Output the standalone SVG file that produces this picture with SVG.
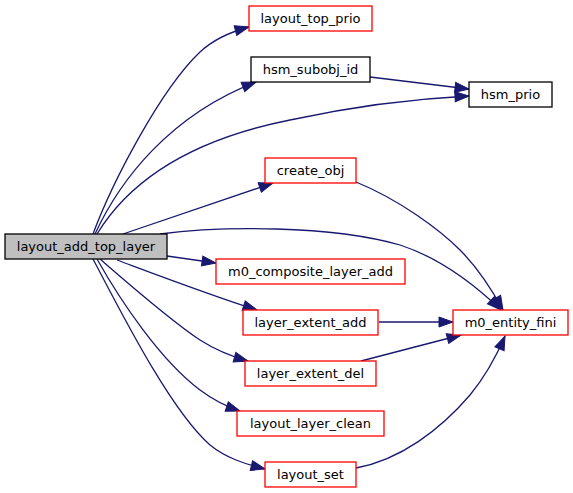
<svg xmlns="http://www.w3.org/2000/svg" width="573" height="493" viewBox="0 0 573 493">
<style>
.n rect{fill:#ffffff;stroke-width:1.3}
.red rect{stroke:#ff0000}
.blk rect{stroke:#000000}
.main rect{fill:#bfbfbf;stroke:#000000}
.n text{font-family:"DejaVu Sans",sans-serif;font-size:13px;text-anchor:middle;fill:#000000}
#edges path{fill:none;stroke:#191970;stroke-width:1.3;marker-end:url(#arr)}
</style>
<defs>
<marker id="arr" markerUnits="userSpaceOnUse" markerWidth="16" markerHeight="12" refX="14" refY="0" viewBox="0 -6 16 12" orient="auto" overflow="visible">
<path d="M0,-5 L14,0 L0,5 z" fill="#191970" stroke="#191970" stroke-width="1"/>
</marker>
</defs>
<rect width="573" height="493" fill="#ffffff"/>
<g id="edges">
<path d="M93,234 C112,183 160,90 200,52 C214,39 230,32 249,27"/>
<path d="M95,234 C120,180 170,115 256,82"/>
<path d="M97,234 C130,180 190,140 290,120 C350,107 410,99 469,96"/>
<path d="M370,77 L469,89"/>
<path d="M123,234 L273,183"/>
<path d="M160,234 C220,226 330,225 400,245 C440,258 475,285 501,310"/>
<path d="M356,182 C400,200 440,230 460,250 C477,267 492,290 503,310"/>
<path d="M167,256 L216,263"/>
<path d="M117,260 C160,276 210,295 257,310"/>
<path d="M100,259 C130,285 170,320 200,340 C214,349 230,356 248,361"/>
<path d="M97,259 C120,300 160,360 200,390 C212,399 225,406 240,411"/>
<path d="M93,259 C120,310 170,410 210,445 C226,458 245,464 265,469"/>
<path d="M379,322 L453,322"/>
<path d="M361,361 L461,335"/>
<path d="M356,468 C400,460 440,430 470,395 C484,378 496,357 505,336"/>
</g>
<g id="layout_add_top_layer" class="n main"><rect x="5" y="234" width="162" height="25"/><text x="86" y="251">layout_add_top_layer</text></g>
<g id="layout_top_prio" class="n red"><rect x="249" y="6" width="123" height="25"/><text x="310.5" y="23">layout_top_prio</text></g>
<g id="hsm_subobj_id" class="n blk"><rect x="251" y="57" width="119" height="25"/><text x="310.5" y="74">hsm_subobj_id</text></g>
<g id="hsm_prio" class="n blk"><rect x="469" y="82" width="83" height="25"/><text x="510.5" y="99">hsm_prio</text></g>
<g id="create_obj" class="n red"><rect x="265" y="158" width="91" height="25"/><text x="310.5" y="175">create_obj</text></g>
<g id="m0_composite_layer_add" class="n red"><rect x="216" y="259" width="189" height="25"/><text x="310.5" y="276">m0_composite_layer_add</text></g>
<g id="layer_extent_add" class="n red"><rect x="243" y="310" width="135" height="25"/><text x="310.5" y="327">layer_extent_add</text></g>
<g id="m0_entity_fini" class="n red"><rect x="453" y="310" width="115" height="25"/><text x="510.5" y="327">m0_entity_fini</text></g>
<g id="layer_extent_del" class="n red"><rect x="245" y="361" width="131" height="25"/><text x="310.5" y="378">layer_extent_del</text></g>
<g id="layout_layer_clean" class="n red"><rect x="237" y="411" width="147" height="25"/><text x="310.5" y="428">layout_layer_clean</text></g>
<g id="layout_set" class="n red"><rect x="265" y="462" width="91" height="25"/><text x="310.5" y="479">layout_set</text></g>
</svg>
